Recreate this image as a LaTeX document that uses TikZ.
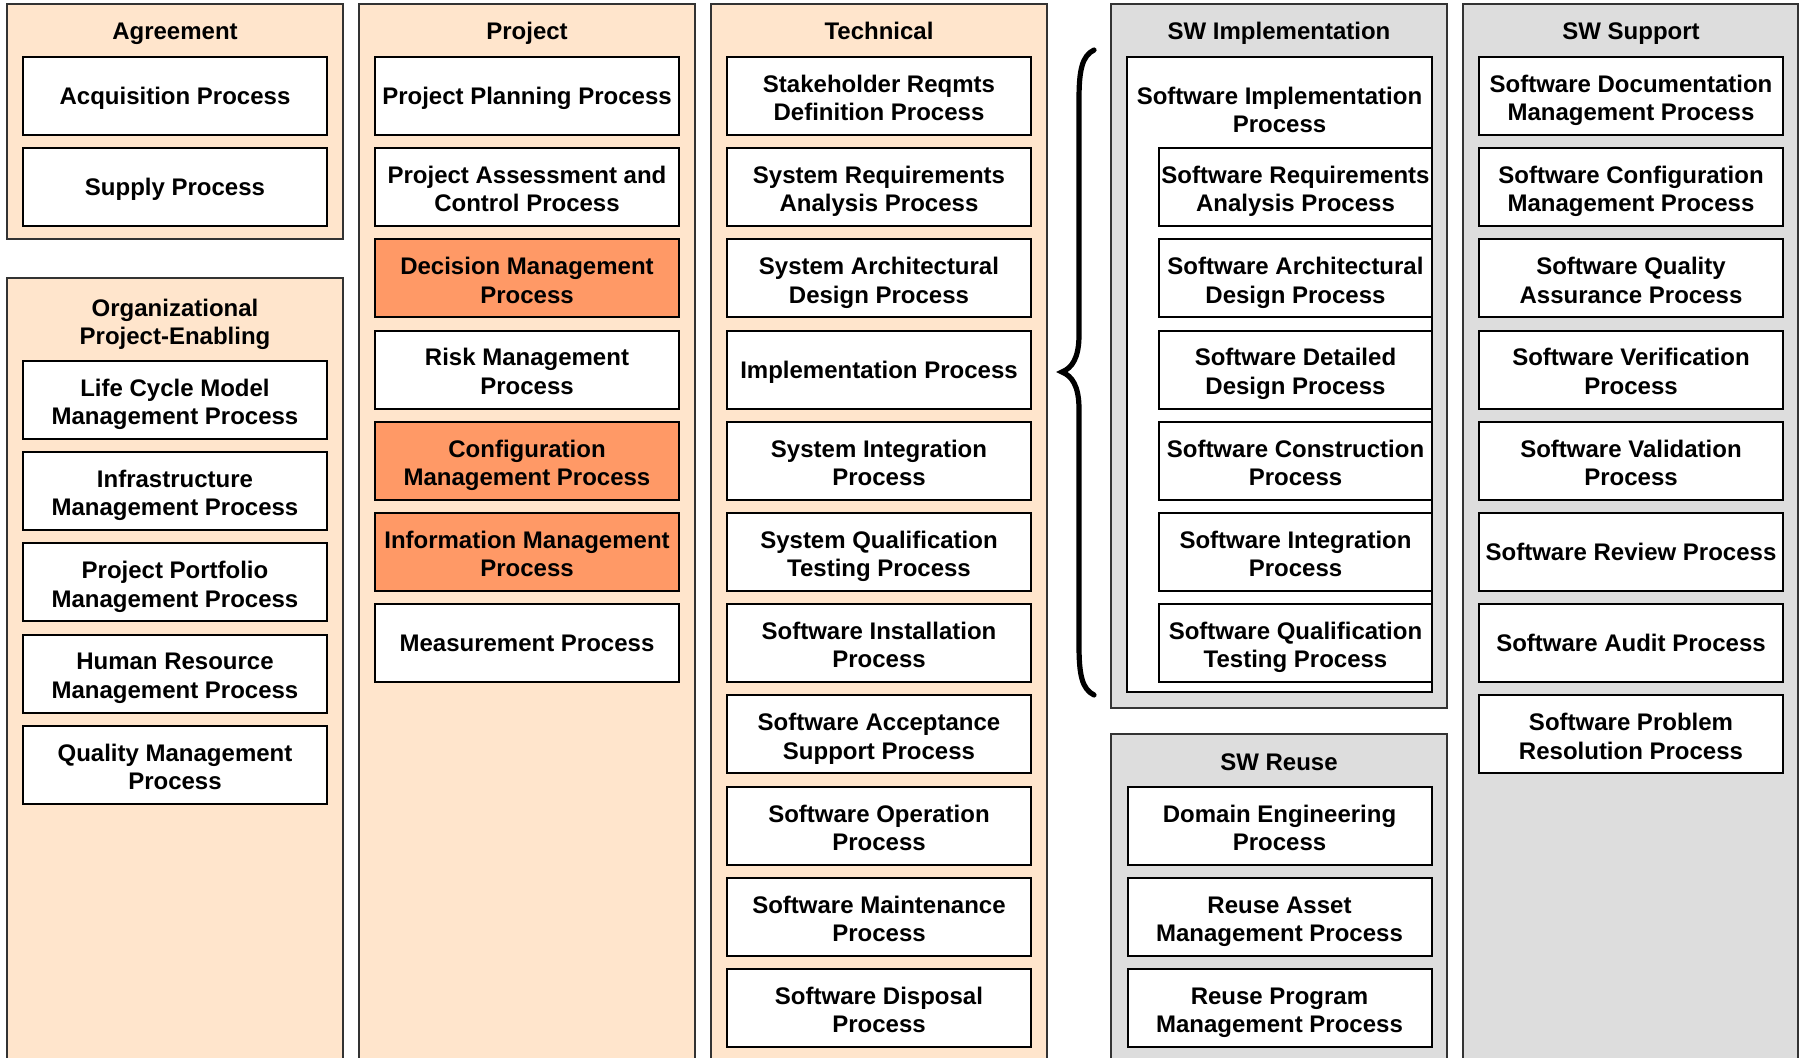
\documentclass[tikz,border=0pt]{standalone}
\usepackage{fontspec}
\setmainfont{Liberation Sans}
\definecolor{peach}{HTML}{FFE5CC}
\definecolor{orangefill}{HTML}{FF9966}
\definecolor{greyfill}{HTML}{DDDDDD}
\definecolor{pborder}{HTML}{333333}
\newcommand{\lnstrut}{\rule[-2.8pt]{0pt}{14.2pt}}
\newcommand{\brk}{\rule[-2.8pt]{0pt}{16.2pt}\\\lnstrut}
\begin{document}
\begin{tikzpicture}[x=0.5pt,y=-0.5pt,
  panelp/.style={draw=pborder, line width=0.8pt, fill=peach},
  panelg/.style={draw=pborder, line width=0.8pt, fill=greyfill},
  txt/.style={font=\bfseries\fontsize{12}{14.2}\selectfont, align=center, inner sep=0pt, execute at begin node=\lnstrut},
  pbox/.style={txt, draw=black, line width=1pt, fill=white, minimum width=152pt, minimum height=39pt},
  obox/.style={pbox, fill=orangefill},
  sbox/.style={pbox, minimum width=136.5pt},
  ttl/.style={txt}
]
\useasboundingbox (0,0) rectangle (1800,1058);
\clip (0,0) rectangle (1800,1058);
\fill[white] (0,0) rectangle (1800,1058);

% panels
\draw[panelp] (7,4) rectangle (343,239);
\draw[panelp] (7,278) rectangle (343,1080);
\draw[panelp] (359,4) rectangle (695,1080);
\draw[panelp] (711,4) rectangle (1047,1080);
\draw[panelg] (1111,4) rectangle (1447,708);
\draw[panelg] (1111,734) rectangle (1447,1080);
\draw[panelg] (1463,4) rectangle (1798,1080);

% titles
\node[ttl] (tagr) at (175,31) {Agreement};
\node[ttl] (tproj) at (527,31) {Project};
\node[ttl] (ttech) at (879,31) {Technical};
\node[ttl] (timpl) at (1279,31) {SW Implementation};
\node[ttl] (tsupp) at (1631,31) {SW Support};
\node[ttl] (torg) at (175,320) {Organizational\brk Project-Enabling};
\node[ttl] (treuse) at (1279,762) {SW Reuse};

% Agreement
\node[pbox] (acq) at (175,96) {Acquisition Process};
\node[pbox] (sup) at (175,187.2) {Supply Process};

% Organizational
\node[pbox] (lcm) at (175,400) {Life Cycle Model\brk Management Process};
\node[pbox] (inf) at (175,491.2) {Infrastructure\brk Management Process};
\node[pbox] (ppm) at (175,582.4) {Project Portfolio\brk Management Process};
\node[pbox] (hrm) at (175,673.6) {Human Resource\brk Management Process};
\node[pbox] (qm) at (175,764.8) {Quality Management\brk Process};

% Project
\node[pbox] (pp) at (527,96) {Project Planning Process};
\node[pbox] (pac) at (527,187.2) {Project Assessment and\brk Control Process};
\node[obox] (dm) at (527,278.4) {Decision Management\brk Process};
\node[pbox] (rm) at (527,369.6) {Risk Management\brk Process};
\node[obox] (cm) at (527,460.8) {Configuration\brk Management Process};
\node[obox] (im) at (527,552) {Information Management\brk Process};
\node[pbox] (mp) at (527,643.2) {Measurement Process};

% Technical
\node[pbox] (srd) at (879,96) {Stakeholder Reqmts\brk Definition Process};
\node[pbox] (sra) at (879,187.2) {System Requirements\brk Analysis Process};
\node[pbox] (sad) at (879,278.4) {System Architectural\brk Design Process};
\node[pbox] (ip) at (879,369.6) {Implementation Process};
\node[pbox] (sip) at (879,460.8) {System Integration\brk Process};
\node[pbox] (sqt) at (879,552) {System Qualification\brk Testing Process};
\node[pbox] (swi) at (879,643.2) {Software Installation\brk Process};
\node[pbox] (swa) at (879,734.4) {Software Acceptance\brk Support Process};
\node[pbox] (swo) at (879,825.6) {Software Operation\brk Process};
\node[pbox] (swm) at (879,916.8) {Software Maintenance\brk Process};
\node[pbox] (swd) at (879,1008) {Software Disposal\brk Process};

% SW Implementation
\node[draw=black, line width=1pt, fill=white, minimum width=152.5pt, minimum height=317.5pt, inner sep=0pt] (sip0) at (1279.5,374.5) {};
\node[txt] (sipt) at (1279.5,108) {Software Implementation\brk Process};
\node[sbox] (s1) at (1295.5,187.2) {Software Requirements\brk Analysis Process};
\node[sbox] (s2) at (1295.5,278.4) {Software Architectural\brk Design Process};
\node[sbox] (s3) at (1295.5,369.6) {Software Detailed\brk Design Process};
\node[sbox] (s4) at (1295.5,460.8) {Software Construction\brk Process};
\node[sbox] (s5) at (1295.5,552) {Software Integration\brk Process};
\node[sbox] (s6) at (1295.5,643.2) {Software Qualification\brk Testing Process};

% SW Reuse
\node[pbox] (r1) at (1279.5,825.6) {Domain Engineering\brk Process};
\node[pbox] (r2) at (1279.5,916.8) {Reuse Asset\brk Management Process};
\node[pbox] (r3) at (1279.5,1008) {Reuse Program\brk Management Process};

% SW Support
\node[pbox] (u1) at (1631,96) {Software Documentation\brk Management Process};
\node[pbox] (u2) at (1631,187.2) {Software Configuration\brk Management Process};
\node[pbox] (u3) at (1631,278.4) {Software Quality\brk Assurance Process};
\node[pbox] (u4) at (1631,369.6) {Software Verification\brk Process};
\node[pbox] (u5) at (1631,460.8) {Software Validation\brk Process};
\node[pbox] (u6) at (1631,552) {Software Review Process};
\node[pbox] (u7) at (1631,643.2) {Software Audit Process};
\node[pbox] (u8) at (1631,734.4) {Software Problem\brk Resolution Process};

% brace
\draw[line width=2.6pt, line cap=round]
  (1094,50) .. controls (1082,56) and (1079,70) .. (1079,100)
  -- (1079,335) .. controls (1079,358) and (1072,368) .. (1062,372)
  .. controls (1072,376) and (1079,386) .. (1079,409)
  -- (1079,645) .. controls (1079,675) and (1082,689) .. (1094,695);
\end{tikzpicture}
\end{document}
